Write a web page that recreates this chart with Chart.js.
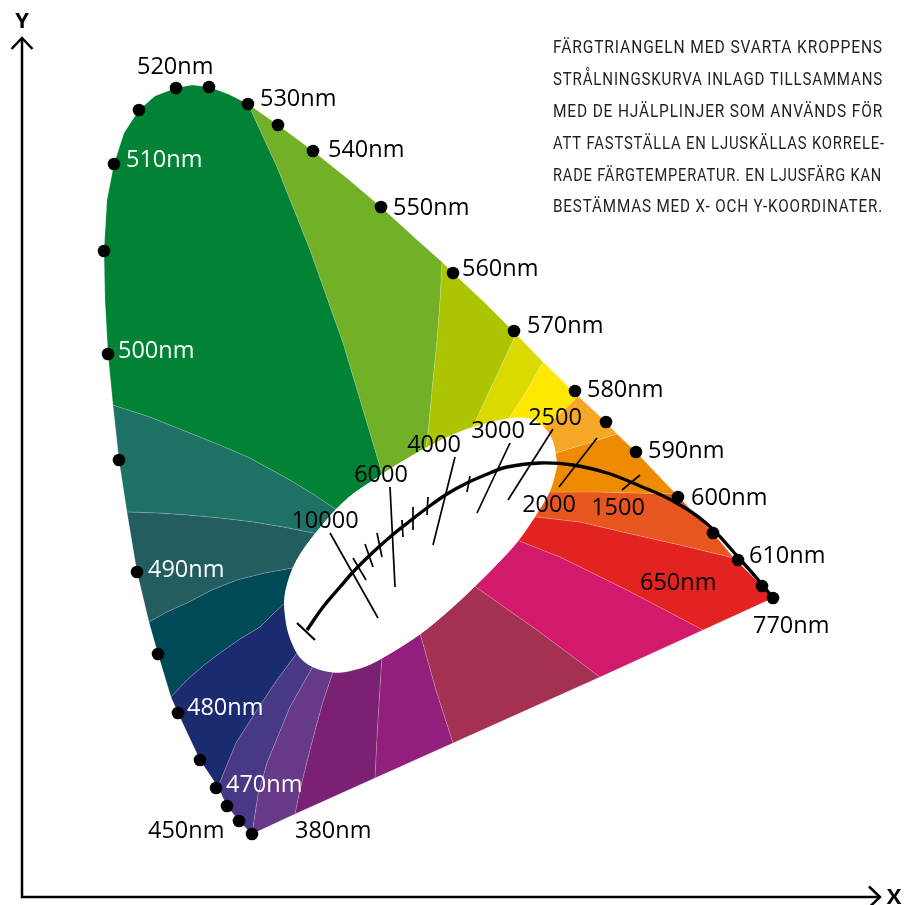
<!DOCTYPE html>
<html>
<head>
<meta charset="utf-8">
<script src="https://cdn.jsdelivr.net/npm/chart.js@4"></script>
<style>
  html, body { margin: 0; padding: 0; background: #fff; }
  #wrap { width: 911px; height: 905px; }
</style>
</head>
<body>
<div id="wrap"><canvas id="cie" width="911" height="905"></canvas></div>
<script>
// values; units are px from the axis corner, y going up

// spectral locus, going up the left side, over the top and down to 770nm, then the purple line back
const locus = [[91,492],[86,543],[83,597],[82,646],[85,697],[92,733],[102,764],[117,787],[133,801],[154,809],
  [170,812],[187,810],[206,803],[226,793],[256,772],[291,746],[326,718],[359,690],[393,659],[420,635],
  [431,624],[462,595],[494,563],[521,535],[556,501],[584,475],[595,463],[614,445],[654,403],[691,364],
  [712,339],[740,311],[751,299],[681,267],[578,220],[431,154],[353,119],[273,83],[230,63],[217,76],
  [205,91],[196,110],[178,137],[156,184],[149,200],[136,243],[127,275],[115,325],[105,385],[97,437]];

// borders between the colour fields: where they leave the locus, then inwards
const spokes = [
  {edge: 0,  path: [[128,480],[168,464],[198,452],[228,439],[268,417],[291,403],[315,387],[323,381]]},
  {edge: 13, path: [[255,730],[288,647],[321,554],[356,437],[362,415]]},
  {edge: 19, path: [[418,597],[415,557],[410,507],[406,464],[402,439]]},
  {edge: 22, path: [[475,522],[453,475],[444,457]]},
  {edge: 23, path: [[505,507],[488,480],[481,469]]},
  {edge: 24, path: [[538,483],[520,469],[510,463]]},
  {edge: 26, path: [[563,453],[534,444],[523,441]]},
  {edge: 28, path: [[578,405],[530,405],[520,405]]},
  {edge: 30, path: [[658,352],[605,364],[558,375],[515,380],[502,379]]},
  {edge: 33, path: [[605,307],[538,340],[495,357],[486,357]]},
  {edge: 34, path: [[515,267],[451,312],[442,318]]},
  {edge: 35, path: [[414,207],[398,264],[395,275]]},
  {edge: 36, path: [[356,177],[360,240],[361,251]]},
  {edge: 37, path: [[278,107],[288,147],[300,192],[311,225],[315,235]]},
  {edge: 38, path: [[236,102],[245,134],[268,190],[290,229],[296,239]]},
  {edge: 41, path: [[214,154],[235,187],[255,217],[275,244],[281,252]]},
  {edge: 44, path: [[165,217],[181,231],[198,244],[218,258],[238,270],[251,283],[263,294],[273,301]]},
  {edge: 46, path: [[145,285],[165,294],[190,307],[215,317],[243,324],[271,329],[280,331]]},
  {edge: 48, path: [[135,384],[165,382],[198,379],[231,375],[261,370],[291,364],[300,361]]}
];
const hub = [398,357];

const regionColors = ['#028234','#72B027','#ACC500','#DBDA00','#FFE800','#F5A726','#EF8B00','#E6561E',
  '#E32322','#D3196B','#A53152','#931F7D','#7A2173','#673A88','#483886','#1B2B6F','#004A58','#235D60','#1E7265'];

// white field round the black body curve
const whiteSpot = [[535,432],[530,457],[518,473],[501,479],[471,475],[438,465],[408,451],[378,434],[355,419],
  [325,398],[298,369],[275,337],[264,307],[263,285],[269,257],[283,235],[311,225],[338,229],[360,239],
  [398,263],[425,285],[451,309],[474,332],[495,355],[515,384],[528,407],[535,432]];

// black body (Planck) curve
const planck = [[285,267],[301,290],[318,310],[331,325],[348,342],[368,360],[388,376],[405,389],[425,403],
  [445,414],[468,424],[485,430],[518,434],[551,432],[585,424],[618,411],[651,396],[685,373],[716,340],
  [738,315],[751,299]];
const planckEnd = [[275,274],[293,257]];

// isotherms (lines of equal correlated colour temperature)
const isotherms = [
  [[308,364],[356,279]], [[331,339],[344,317]], [[343,353],[351,330]], [[355,364],[360,340]],
  [[368,410],[373,310]], [[380,377],[381,360]], [[391,390],[391,367]], [[406,400],[405,382]],
  [[433,440],[411,352]], [[448,421],[445,405]], [[488,454],[455,384]], [[531,468],[486,397]],
  [[575,459],[537,410]], [[618,422],[600,407]]
];
const kelvin = [10000,null,null,null,6000,null,null,null,4000,null,3000,2500,2000,1500];

// marked wavelengths on the locus
const wavelengths = [380,450,460,470,475,480,485,490,495,500,505,510,515,520,525,530,535,540,550,560,570,580,585,590,600,605,610,650,770];
const wavePoints = [[230,63],[217,76],[205,91],[194,109],[178,137],[156,184],[136,243],[115,325],[97,437],[86,543],
  [82,646],[92,733],[117,787],[154,809],[187,810],[226,793],[256,772],[291,746],[359,690],[431,624],
  [492,566],[553,506],[584,475],[614,445],[656,400],[691,364],[716,337],[740,311],[751,299]];
const labelledNm = [380,450,470,480,490,500,510,520,530,540,550,560,570,580,590,600,610,650,770];

const caption = [
  'FÄRGTRIANGELN MED SVARTA KROPPENS',
  'STRÅLNINGSKURVA INLAGD TILLSAMMANS',
  'MED DE HJÄLPLINJER SOM ANVÄNDS FÖR',
  'ATT FASTSTÄLLA EN LJUSKÄLLAS KORRELE-',
  'RADE FÄRGTEMPERATUR. EN LJUSFÄRG KAN',
  'BESTÄMMAS MED X- OCH Y-KOORDINATER.'
];

// label placement (px offsets from their point)
const waveLabelSpot = {380:[43,4],450:[-91,17],470:[10,4],480:[9,2],490:[11,5],500:[10,4],510:[12,3],
  520:[-39,-14],530:[12,2],540:[15,6],550:[12,8],560:[9,3],570:[13,2],580:[12,6],590:[12,6],600:[13,8],
  610:[11,3],650:[-122,4],770:[-20,35]};
const whiteLabels = [470,480,490,500,510];
const kelvinSpot = {10000:[0,-5,-5],6000:[0,-9,-5],4000:[0,-21,-5],3000:[0,-12,-5],2500:[0,2,-4],2000:[1,-10,25],1500:[1,-4,25]};
const captionLeft = 553, captionRight = [883,883,883,885,882,883], captionBase = [53,85,117,149,181,212];

const toXY = p => ({x: p[0], y: p[1]});

function regionPolygon(k) {
  const a = spokes[k], b = spokes[(k + 1) % spokes.length];
  const pts = [locus[a.edge]];
  let i = a.edge;
  while (i !== b.edge) {
    i = (i + 1) % locus.length;
    pts.push(locus[i]);
  }
  pts.push(...b.path, hub, ...a.path.slice().reverse(), locus[a.edge]);
  return pts;
}

const datasets = [];
datasets.push({
  data: wavePoints.map(toXY), showLine: false, pointRadius: 6.3, pointBorderWidth: 0,
  pointBackgroundColor: '#000', order: 0
});
datasets.push({
  data: planck.map(toXY), borderColor: '#000', borderWidth: 3.4, tension: 0.4, pointRadius: 0, order: 1
});
datasets.push({
  data: planckEnd.map(toXY), borderColor: '#000', borderWidth: 2.2, pointRadius: 0, order: 1
});
isotherms.forEach(seg => datasets.push({
  data: seg.map(toXY), borderColor: '#000', borderWidth: 1.7, pointRadius: 0, order: 2
}));
datasets.push({
  data: whiteSpot.map(toXY), fill: 'shape', backgroundColor: '#fff', borderColor: '#fff',
  borderWidth: 1, tension: 0.35, pointRadius: 0, order: 5
});
regionColors.forEach((c, k) => datasets.push({
  data: regionPolygon(k).map(toXY), fill: 'shape', backgroundColor: c,
  borderColor: 'rgba(255,255,255,0.28)', borderWidth: 0.6, pointRadius: 0, order: 10
}));

const annotate = {
  id: 'annotate',
  afterDraw(chart) {
    const {ctx, chartArea: a, scales: {x, y}} = chart;
    ctx.save();

    // axes with open arrow heads
    ctx.strokeStyle = '#000';
    ctx.lineWidth = 2.5;
    ctx.lineJoin = 'miter';
    ctx.beginPath();
    ctx.moveTo(a.left, a.top);
    ctx.lineTo(a.left, a.bottom);
    ctx.lineTo(a.right, a.bottom);
    ctx.stroke();
    ctx.beginPath();
    ctx.moveTo(a.left - 10.5, a.top + 11);
    ctx.lineTo(a.left, a.top);
    ctx.lineTo(a.left + 10.5, a.top + 11);
    ctx.moveTo(a.right - 11, a.bottom - 10.5);
    ctx.lineTo(a.right, a.bottom);
    ctx.lineTo(a.right - 11, a.bottom + 10.5);
    ctx.stroke();

    ctx.fillStyle = '#000';
    ctx.font = 'bold 22px "Open Sans"';
    ctx.textAlign = 'center';
    ctx.textBaseline = 'alphabetic';
    ctx.fillText('Y', a.left, a.top - 10);
    ctx.fillText('X', a.right + 14, a.bottom + 7);

    // wavelength labels
    ctx.font = '23.5px "Open Sans"';
    ctx.textAlign = 'left';
    labelledNm.forEach(nm => {
      const p = wavePoints[wavelengths.indexOf(nm)];
      const [dx, dy] = waveLabelSpot[nm];
      ctx.fillStyle = whiteLabels.includes(nm) ? '#fff' : '#000';
      ctx.fillText(nm + 'nm', x.getPixelForValue(p[0]) + dx, y.getPixelForValue(p[1]) + dy);
    });

    // colour temperature labels
    ctx.fillStyle = '#000';
    ctx.textAlign = 'center';
    kelvin.forEach((k, i) => {
      if (!k) return;
      const [end, dx, dy] = kelvinSpot[k];
      const p = isotherms[i][end];
      ctx.fillText(String(k), x.getPixelForValue(p[0]) + dx, y.getPixelForValue(p[1]) + dy);
    });

    // caption, justified
    ctx.fillStyle = '#231f20';
    ctx.font = '18px Roboto';
    ctx.textAlign = 'left';
    ctx.letterSpacing = '1px';
    caption.forEach((line, i) => {
      const w = ctx.measureText(line).width;
      ctx.save();
      ctx.translate(captionLeft, captionBase[i]);
      ctx.scale((captionRight[i] - captionLeft) / w, 1);
      ctx.fillText(line, 0, 0);
      ctx.restore();
    });
    ctx.restore();
  }
};

new Chart(document.getElementById('cie'), {
  type: 'line',
  data: {datasets: datasets},
  options: {
    responsive: false,
    animation: false,
    events: [],
    layout: {padding: {left: 22, right: 31, top: 38, bottom: 8}},
    scales: {
      x: {type: 'linear', min: 0, max: 858, display: false},
      y: {type: 'linear', min: 0, max: 859, display: false}
    },
    plugins: {legend: {display: false}, tooltip: {enabled: false}}
  },
  plugins: [annotate]
});
</script>
</body>
</html>
